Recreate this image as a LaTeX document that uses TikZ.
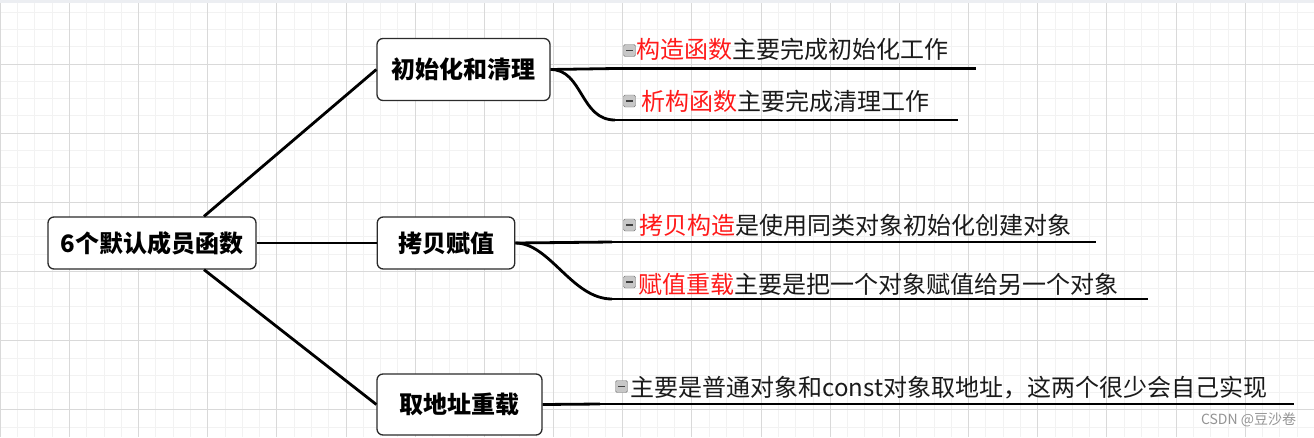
\documentclass[tikz,border=0pt]{standalone}
\usepackage{fontspec}
\newfontfamily\cjk{Noto Sans CJK SC}
\definecolor{minorgrid}{HTML}{F2F2F2}
\definecolor{majorgrid}{HTML}{D9D9D9}
\definecolor{topband}{HTML}{ECEEF2}
\definecolor{txtred}{HTML}{FF1A1A}
\definecolor{txtdark}{HTML}{1A1A1A}
\definecolor{boxline}{HTML}{2B2B2B}
\tikzset{
  mainbox/.style={draw=boxline, line width=1.3pt, rounded corners=6pt, fill=white,
    font=\cjk\bfseries\fontsize{24}{28}\selectfont, text=black, inner sep=0pt, align=center},
  conn/.style={draw=black, line width=2.8pt},
  leaf/.style={font=\cjk\fontsize{24}{28}\selectfont, text=txtdark, inner sep=0pt, anchor=base west},
  iconbox/.style={draw=black!55, fill=black!22, rounded corners=1.5pt, minimum width=12pt,
    minimum height=12pt, inner sep=0pt,
    path picture={\draw[black!75, line width=1.6pt]
      ([xshift=-3.2pt]path picture bounding box.center) -- ([xshift=3.2pt]path picture bounding box.center);}},
  mark/.style={text=txtred}
}
\begin{document}
\begin{tikzpicture}[x=1pt,y=-1pt]
\useasboundingbox (0,0) rectangle (1314,437);
\fill[white] (0,0) rectangle (1314,437);
% grid
\foreach \i in {0,...,76} \draw[minorgrid, line width=0.9pt] ({0.2+17.2925*\i},0) -- ++(0,437);
\foreach \j in {0,...,25} \draw[minorgrid, line width=0.9pt] (0,{12.14+17.2925*\j}) -- ++(1314,0);
\foreach \i in {0,...,19} \draw[majorgrid, line width=0.9pt] ({0.2+69.17*\i},0) -- ++(0,437);
\foreach \j in {1,...,6} \draw[majorgrid, line width=0.9pt] (0,{-5.1+69.1*\j}) -- ++(1314,0);
\fill[topband] (0,0) rectangle (1314,3);

% main boxes
\node[mainbox, minimum width=208pt, minimum height=52pt] (root) at (152,243) {6个默认成员函数};
\node[mainbox, minimum width=173pt, minimum height=62pt] (b1) at (463.5,69.5) {初始化和清理};
\node[mainbox, minimum width=137.5pt, minimum height=52pt] (b2) at (446,243) {拷贝赋值};
\node[mainbox, minimum width=165pt, minimum height=61pt] (b3) at (459.5,404.5) {取地址重载};

% root connectors
\draw[conn] ([xshift=52pt]root.north) -- (b1.west);
\draw[conn] (root.east) -- (b2.west);
\draw[conn] ([xshift=52pt]root.south) -- (b3.west);

% underline coordinates
\coordinate (u1s) at (615,68.5);  \coordinate (u1e) at (976,68.5);
\coordinate (u2s) at (615,120);   \coordinate (u2e) at (958,120);
\coordinate (u3s) at (612,242);   \coordinate (u3e) at (1096,242);
\coordinate (u4s) at (612,299);   \coordinate (u4e) at (1148,299);
\coordinate (u5s) at (600,404);   \coordinate (u5e) at (1294,404);

% branch connectors
\draw[conn] (b1.east) -- (u1s);
\draw[conn] (b1.east) .. controls (583,69.5) and (580,120) .. (u2s);
\draw[conn] (b2.east) -- (u3s);
\draw[conn] (b2.east) .. controls (550,243) and (572,299) .. (u4s);
\draw[conn] (b3.east) -- (u5s);

% underlines
\draw[conn] (u1s) -- (u1e);
\draw[conn] (u2s) -- (u2e);
\draw[conn] (u3s) -- (u3e);
\draw[conn] (u4s) -- (u4e);
\draw[conn] (u5s) -- (u5e);

% icons
\node[iconbox] (i1) at (629.5,50.5) {};
\node[iconbox] (i2) at (629.5,101) {};
\node[iconbox] (i3) at (629.5,225) {};
\node[iconbox] (i4) at (629.5,282) {};
\node[iconbox] (i5) at (621.5,386.5) {};

% leaf texts
\node[leaf] (t1) at (636,58.5) {\textcolor{txtred}{构造函数}主要完成初始化工作};
\node[leaf] (t2) at (641,110.7) {\textcolor{txtred}{析构函数}主要完成清理工作};
\node[leaf] (t3) at (639,234) {\textcolor{txtred}{拷贝构造}是使用同类对象初始化创建对象};
\node[leaf] (t4) at (638,293) {\textcolor{txtred}{赋值重载}主要是把一个对象赋值给另一个对象};
\node[leaf] (t5) at (630.5,396) {主要是普通对象和const对象取地址，这两个很少会自己实现};

% watermark
\node[font=\cjk\fontsize{14}{16}\selectfont, text=black!42, inner sep=0pt] (wm) at (1248.5,420) {CSDN @豆沙卷};
\end{tikzpicture}
\end{document}
